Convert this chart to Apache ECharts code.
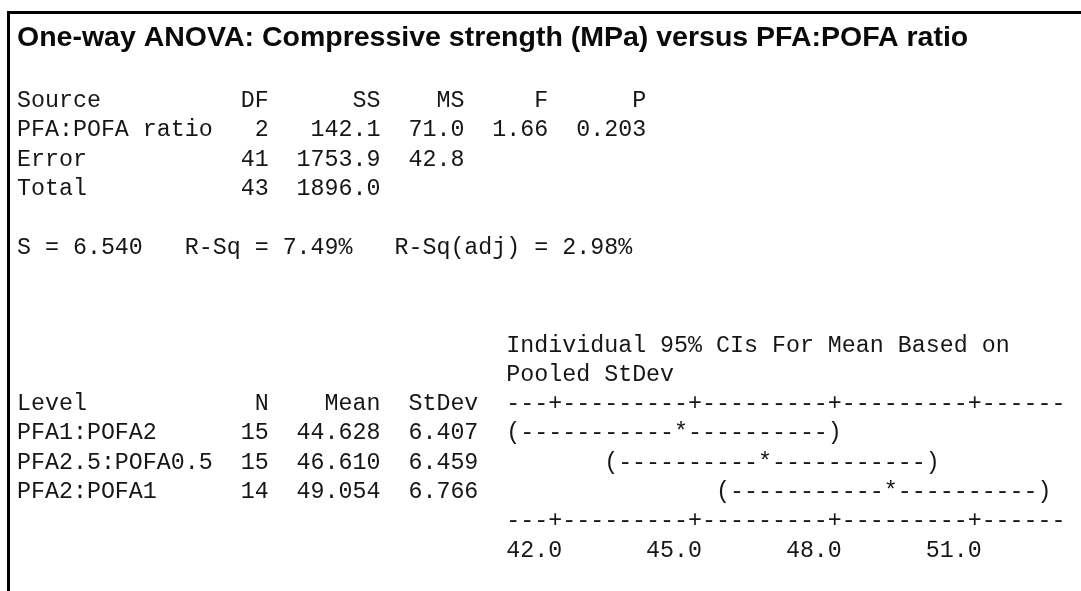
<!DOCTYPE html>
<html>
<head>
<meta charset="utf-8">
<script src="https://cdn.jsdelivr.net/npm/echarts@6/dist/echarts.min.js"></script>
<style>
  html, body { margin: 0; padding: 0; background: #ffffff; }
  #main { width: 1081px; height: 591px; }
</style>
</head>
<body>
<div id="main"></div>
<script>
// ---------- session output data ----------
const titleText = 'One-way ANOVA: Compressive strength (MPa) versus PFA:POFA ratio';

const anovaHeader = ['Source', 'DF', 'SS', 'MS', 'F', 'P'];
const anovaSources = ['PFA:POFA ratio', 'Error', 'Total'];
const anovaDF = [2, 41, 43];
const anovaSS = [142.1, 1753.9, 1896.0];
const anovaMS = [71.0, 42.8, null];
const anovaF = [1.66, null, null];
const anovaP = [0.203, null, null];

const fitS = 6.540;
const fitRSq = 7.49;
const fitRSqAdj = 2.98;

const ciCaption = ['Individual 95% CIs For Mean Based on', 'Pooled StDev'];
const levelHeader = ['Level', 'N', 'Mean', 'StDev'];
const levelNames = ['PFA1:POFA2', 'PFA2.5:POFA0.5', 'PFA2:POFA1'];
const levelN = [15, 15, 14];
const levelMean = [44.628, 46.610, 49.054];
const levelStDev = [6.407, 6.459, 6.766];
const ciLower = [41.218, 43.200, 45.524];
const ciUpper = [48.038, 50.020, 52.584];
const ciTicks = [42.0, 45.0, 48.0, 51.0];

// ---------- layout ----------
const MONO = '"Liberation Mono", "Courier New", monospace';
const MONO_SIZE = 23.3;
const CW = MONO_SIZE * 0.6;        // advance of one monospace cell
const LH = 29.3;                   // line pitch of the session text
const X0 = 17;                     // left edge of the text
const Y_TABLE = 101;               // centre of the "Source" line
const Y_LEVEL = 404;               // centre of the "Level" line
const INK = '#161616';
const monoFont = MONO_SIZE + 'px ' + MONO;

const CI_COL = 35;                 // text column where the interval plot begins
const CI_CHARS = 40;               // width of the interval plot in characters
const CI_STEP = 0.3;               // data units per character
const CI_MIN = ciTicks[0] - 3 * CI_STEP;
const CI_MAX = CI_MIN + (CI_CHARS - 1) * CI_STEP;
const gridLeft = X0 + CI_COL * CW + CW / 2;

function fmt(v, d) { return v == null ? '' : v.toFixed(d); }

// ---------- text lines: [text, y] ----------
const lines = [];
lines.push([anovaHeader[0].padEnd(15) + anovaHeader[1].padStart(3) + anovaHeader[2].padStart(8) +
            anovaHeader[3].padStart(6) + anovaHeader[4].padStart(6) + anovaHeader[5].padStart(7), Y_TABLE]);
anovaSources.forEach((s, i) => {
  let t = s.padEnd(15) + String(anovaDF[i]).padStart(3) + fmt(anovaSS[i], 1).padStart(8);
  if (anovaMS[i] != null) t += fmt(anovaMS[i], 1).padStart(6);
  if (anovaF[i] != null) t += fmt(anovaF[i], 2).padStart(6);
  if (anovaP[i] != null) t += fmt(anovaP[i], 3).padStart(7);
  lines.push([t, Y_TABLE + (i + 1) * LH]);
});
lines.push(['S = ' + fitS.toFixed(3) + '   R-Sq = ' + fitRSq.toFixed(2) + '%   R-Sq(adj) = ' +
            fitRSqAdj.toFixed(2) + '%', Y_TABLE + 5 * LH]);
lines.push([' '.repeat(CI_COL) + ciCaption[0], Y_LEVEL - 2 * LH]);
lines.push([' '.repeat(CI_COL) + ciCaption[1], Y_LEVEL - LH]);
lines.push([levelHeader[0].padEnd(16) + levelHeader[1].padStart(2) + levelHeader[2].padStart(8) +
            levelHeader[3].padStart(7), Y_LEVEL]);
levelNames.forEach((n, i) => {
  lines.push([n.padEnd(16) + String(levelN[i]).padStart(2) + levelMean[i].toFixed(3).padStart(8) +
              levelStDev[i].toFixed(3).padStart(7), Y_LEVEL + (i + 1) * LH]);
});

const graphics = [
  { type: 'rect', shape: { x: 7, y: 11, width: 3, height: 580 }, style: { fill: '#000' } },
  { type: 'rect', shape: { x: 7, y: 11, width: 1074, height: 3 }, style: { fill: '#000' } },
  {
    type: 'text', x: X0, y: 38,
    style: { text: titleText, font: 'bold 28.5px "Liberation Sans", Arial, sans-serif', fill: '#0a0a0a', verticalAlign: 'middle' }
  }
];
lines.forEach(([t, y]) => {
  graphics.push({
    type: 'text', x: X0, y: y,
    style: { text: t, font: monoFont, fill: INK, verticalAlign: 'middle' }
  });
});

// snap a pixel position on the interval axis to its character cell
function cellOf(px) { return Math.round((px - gridLeft) / CW); }
function cellX(c) { return gridLeft + c * CW - CW / 2; }

const chart = echarts.init(document.getElementById('main'), null, { renderer: 'canvas' });
chart.setOption({
  animation: false,
  backgroundColor: '#ffffff',
  graphic: graphics,
  grid: { left: gridLeft, top: Y_LEVEL, width: (CI_CHARS - 1) * CW, height: 4 * LH },
  xAxis: { type: 'value', min: CI_MIN, max: CI_MAX, show: false },
  yAxis: { type: 'value', min: 0, max: 4, inverse: true, show: false },
  series: [
    {
      // confidence interval for each level: ( ---- * ---- )
      type: 'custom',
      clip: false,
      data: levelMean.map((m, i) => [ciLower[i], m, ciUpper[i], i + 1]),
      encode: { x: [0, 1, 2], y: 3 },
      renderItem: function (params, api) {
        const row = api.value(3);
        const lo = cellOf(api.coord([api.value(0), row])[0]);
        const mid = cellOf(api.coord([api.value(1), row])[0]);
        const hi = cellOf(api.coord([api.value(2), row])[0]);
        const y = api.coord([api.value(1), row])[1];
        const str = '(' + '-'.repeat(mid - lo - 1) + '*' + '-'.repeat(hi - mid - 1) + ')';
        return {
          type: 'text', x: cellX(lo), y: y,
          style: { text: str, font: monoFont, fill: INK, verticalAlign: 'middle' }
        };
      }
    },
    {
      // character rulers above and below the intervals, with tick labels underneath
      type: 'custom',
      clip: false,
      data: [[CI_MIN, 0], [CI_MIN, 4]],
      encode: { x: 0, y: 1 },
      renderItem: function (params, api) {
        const row = api.value(1);
        const y = api.coord([CI_MIN, row])[1];
        const chars = new Array(CI_CHARS).fill('-');
        const tickCells = ciTicks.map(t => cellOf(api.coord([t, row])[0]));
        tickCells.forEach(c => { chars[c] = '+'; });
        const children = [{
          type: 'text', x: cellX(0), y: y,
          style: { text: chars.join(''), font: monoFont, fill: INK, verticalAlign: 'middle' }
        }];
        if (row === 4) {
          const ly = api.coord([CI_MIN, row + 1])[1];
          ciTicks.forEach((t, k) => {
            children.push({
              type: 'text', x: cellX(tickCells[k] + 1), y: ly,
              style: { text: t.toFixed(1), font: monoFont, fill: INK, verticalAlign: 'middle', align: 'right' }
            });
          });
        }
        return { type: 'group', children: children };
      }
    }
  ]
});
</script>
</body>
</html>
